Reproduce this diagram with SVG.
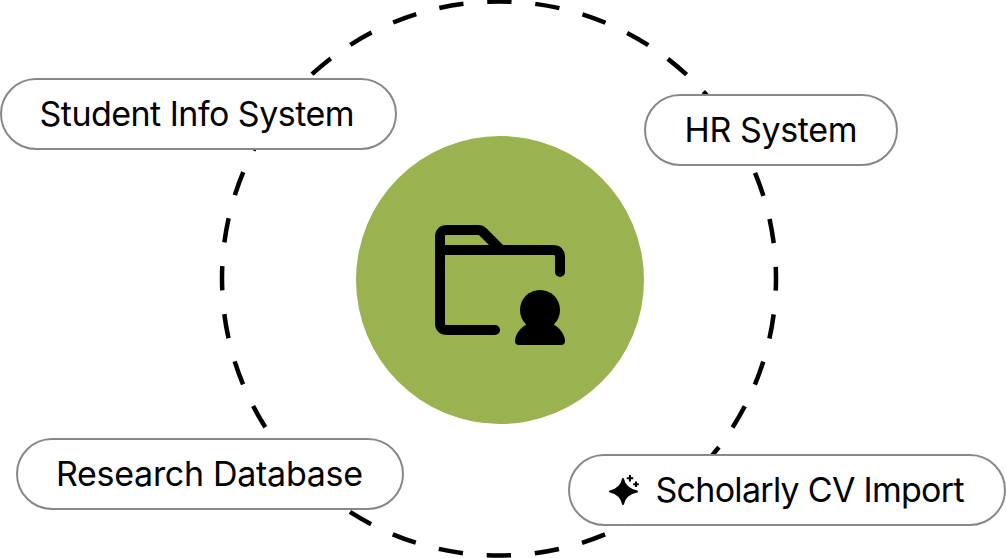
<svg xmlns="http://www.w3.org/2000/svg" width="1006" height="558" viewBox="0 0 1006 558">
  <style>
    .pill { fill: #fff; stroke: #888; stroke-width: 2; }
    .label { font-family: Inter, "Liberation Sans", sans-serif; font-size: 34px; fill: #000; }
    .icon { fill: none; stroke: #000; stroke-width: 10; stroke-linecap: round; stroke-linejoin: round; }
  </style>
  <g id="connectors">
    <circle cx="499" cy="278.5" r="277" fill="none" stroke="#000" stroke-width="4.500" stroke-dasharray="24.500 23.840" stroke-dashoffset="12.250"/>
  </g>
  <g id="center">
    <circle cx="500" cy="280" r="144" fill="#9bb251"/>
    <path class="icon" d="M495 330H447Q440 330 440 323V237Q440 230 447 230H478Q481 230 483 232L501 250H553Q560 250 560 257V272"/>
    <path class="icon" d="M440 250H501" stroke-linecap="butt"/>
    <circle cx="540" cy="310" r="20" fill="#000"/>
    <path d="M527 324C520 328 515 335 515 341Q515 345 519 345H561Q565 345 565 341C565 335 560 328 553 324Z" fill="#000"/>
  </g>
  <g id="student-info-system">
    <rect class="pill" x="1" y="79" width="395" height="70" rx="35"/>
    <text class="label" x="39.500" y="126" textLength="315" lengthAdjust="spacing">Student Info System</text>
  </g>
  <g id="hr-system">
    <rect class="pill" x="645" y="95" width="252" height="70" rx="35"/>
    <text class="label" x="684.500" y="142" textLength="173" lengthAdjust="spacing">HR System</text>
  </g>
  <g id="research-database">
    <rect class="pill" x="17" y="439" width="386" height="70" rx="35"/>
    <text class="label" x="56" y="486" textLength="307" lengthAdjust="spacing">Research Database</text>
  </g>
  <g id="scholarly-cv-import">
    <rect class="pill" x="569" y="455" width="436" height="70" rx="35"/>
    <path d="M623 479Q625 489 637 491.500Q625 494 623 504Q621 494 610 491.500Q621 489 623 479Z" fill="#000" stroke="#000" stroke-width="2" stroke-linejoin="round"/>
    <path d="M630 475V481.500M626.800 478.200H633.200M636 481.500V487M633.200 484.200H638.800" fill="none" stroke="#000" stroke-width="2"/>
    <text class="label" x="655.500" y="502" textLength="309" lengthAdjust="spacing">Scholarly CV Import</text>
  </g>
</svg>
